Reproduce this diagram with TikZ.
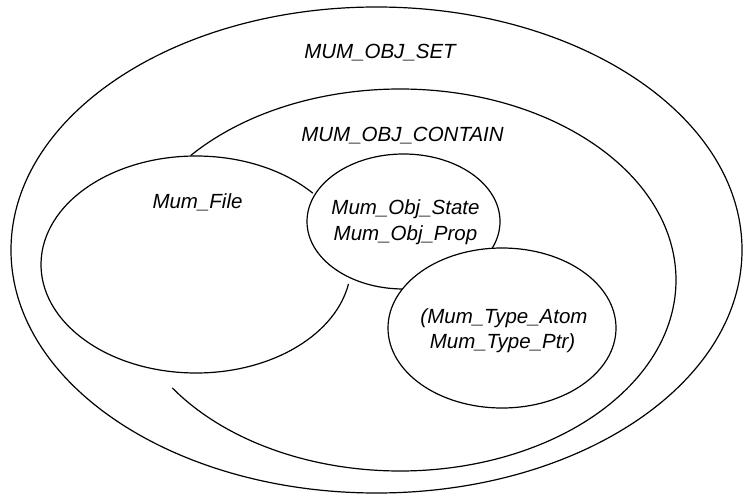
\documentclass[tikz,border=0pt]{standalone}
\usepackage{fontspec}
\setmainfont{Liberation Sans}
\usetikzlibrary{shapes.geometric}
\begin{document}
\begin{tikzpicture}[x=1pt,y=1pt,
  lbl/.style={font=\fontsize{20.5}{25}\selectfont\itshape, inner sep=0pt, anchor=base},
  setline/.style={line width=1.2pt, draw=black},
  blob/.style={ellipse, setline, fill=white, inner sep=0pt, outer sep=0pt}]
\useasboundingbox (0,0) rectangle (743,496);
\fill[white] (0,0) rectangle (743,496);
% outer set
\node[blob, minimum width=731pt, minimum height=486pt] (objset) at (376.5,246) {};
% contain (partial arc)
\coordinate (cc) at (400,216);
\draw[setline] ([shift={(139.3:276 and 191)}]cc) arc[start angle=139.3, end angle=-145.6, x radius=276, y radius=191];
% Mum_File (partial arc)
\coordinate (fc) at (196,231.5);
\draw[setline] ([shift={(41.1:155 and 108.5)}]fc) arc[start angle=41.1, end angle=349.7, x radius=155, y radius=108.5];
% Obj state and type circles
\node[blob, minimum width=193pt, minimum height=135pt] (objstate) at (403.5,274.5) {};
\node[blob, minimum width=228pt, minimum height=160pt] (typeset) at (502,168) {};
% labels
\node[lbl] (tset) at (380,437.7) {MUM\_OBJ\_SET};
\node[lbl] (tcontain) at (402.5,354) {MUM\_OBJ\_CONTAIN};
\node[lbl] (tfile) at (197.5,288) {Mum\_File};
\node[lbl] (tstate) at (405.5,281.7) {Mum\_Obj\_State};
\node[lbl] (tprop) at (405.5,255.3) {Mum\_Obj\_Prop};
\node[lbl] (tatom) at (504,172.7) {(Mum\_Type\_Atom};
\node[lbl] (tptr) at (502.5,147.7) {Mum\_Type\_Ptr)};
\end{tikzpicture}
\end{document}
